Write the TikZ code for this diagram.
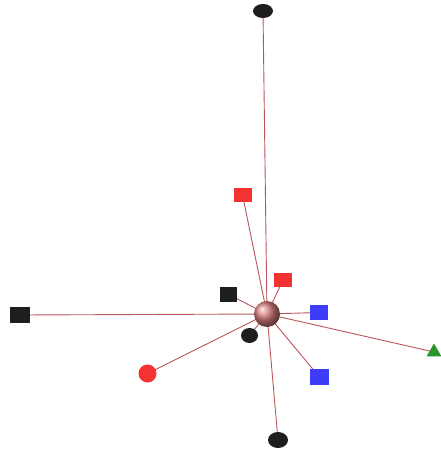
\documentclass[tikz,border=0pt]{standalone}
\usetikzlibrary{shapes.geometric,backgrounds}
\definecolor{edgec}{RGB}{185,85,90}
\definecolor{redn}{RGB}{245,50,50}
\definecolor{bluen}{RGB}{60,60,250}
\definecolor{blackn}{RGB}{30,30,30}
\definecolor{greenn}{RGB}{40,150,40}
\definecolor{hubc}{RGB}{215,125,125}
\tikzset{
  sq/.style={rectangle, minimum width=18pt, minimum height=14.5pt, inner sep=0pt, draw=none},
  ell/.style={ellipse, minimum width=18pt, minimum height=15pt, inner sep=0pt, fill=blackn},
  rnd/.style={circle, minimum size=18pt, inner sep=0pt, fill=redn},
  tri/.style={regular polygon, regular polygon sides=3, minimum size=17pt, inner sep=0pt, fill=greenn},
  hub/.style={circle, minimum size=26pt, inner sep=0pt, shading=ball, ball color=hubc},
  link/.style={draw=edgec, line width=0.9pt}
}
\begin{document}
\begin{tikzpicture}[x=1pt,y=-1pt]
\useasboundingbox (0,0) rectangle (441,453);
\node[hub] (c) at (267,314) {};
\node[ell, minimum width=20pt, minimum height=14pt] (top) at (263,11) {};
\node[sq, fill=redn] (r1) at (242.5,195) {};
\node[sq, fill=redn] (r2) at (283,280) {};
\node[sq, fill=blackn, minimum width=17pt] (b1) at (228.5,294.5) {};
\node[sq, fill=bluen] (bl1) at (319,312.5) {};
\node[sq, fill=blackn, minimum width=20pt, minimum height=16pt] (left) at (20,315) {};
\node[ell, minimum width=17pt] (e1) at (249.5,335.5) {};
\node[rnd] (rc) at (147.5,373.5) {};
\node[sq, fill=bluen, minimum width=19pt, minimum height=16pt] (bl2) at (319,376.5) {};
\node[tri] (g) at (434,352) {};
\node[ell, minimum width=20pt, minimum height=16pt] (bot) at (278,440) {};
\begin{scope}[on background layer]
\foreach \n in {top,r1,r2,b1,bl1,left,e1,rc,bl2,g,bot}
  \path[link] (c.center) -- (\n.center);
\end{scope}
\end{tikzpicture}
\end{document}
